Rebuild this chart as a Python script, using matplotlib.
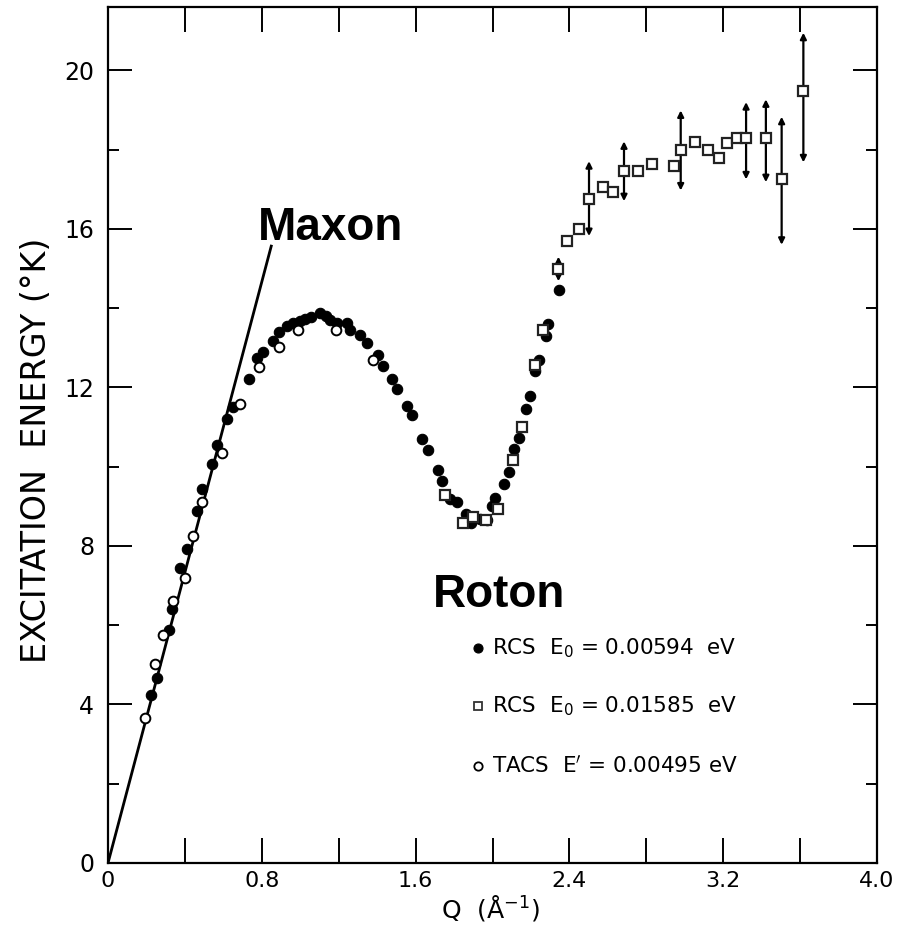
import matplotlib
matplotlib.use("Agg")
import matplotlib.pyplot as plt
from matplotlib.ticker import MultipleLocator, FixedLocator

# ---------------- data ----------------
rcs1_q = [0.222, 0.253, 0.319, 0.331, 0.375, 0.413, 0.461, 0.487, 0.543, 0.569,
          0.617, 0.652, 0.733, 0.773, 0.808, 0.857, 0.891, 0.929, 0.960, 0.999,
          1.025, 1.054, 1.103, 1.134, 1.155, 1.193, 1.245, 1.259, 1.311, 1.346,
          1.407, 1.432, 1.476, 1.502, 1.554, 1.583, 1.632, 1.666, 1.718, 1.739,
          1.779, 1.814, 1.862, 1.887, 1.935, 1.970, 1.996, 2.013, 2.060, 2.086,
          2.113, 2.139, 2.173, 2.197, 2.221, 2.243, 2.278, 2.291, 2.348]
rcs1_e = [4.24, 4.66, 5.88, 6.41, 7.44, 7.92, 8.87, 9.44, 10.07, 10.54,
          11.20, 11.50, 12.22, 12.74, 12.89, 13.16, 13.39, 13.54, 13.63, 13.67,
          13.73, 13.77, 13.88, 13.81, 13.71, 13.63, 13.63, 13.46, 13.33, 13.11,
          12.83, 12.53, 12.21, 11.96, 11.54, 11.31, 10.70, 10.41, 9.92, 9.65,
          9.18, 9.12, 8.81, 8.58, 8.68, 8.66, 9.00, 9.21, 9.56, 9.86,
          10.44, 10.72, 11.45, 11.78, 12.41, 12.70, 13.31, 13.60, 14.47]

rcs2_q = [1.753, 1.848, 1.900, 1.966, 2.030, 2.108, 2.152, 2.219, 2.261, 2.343,
          2.386, 2.450, 2.502, 2.577, 2.629, 2.684, 2.755, 2.831, 2.942, 2.979,
          3.053, 3.119, 3.180, 3.222, 3.274, 3.319, 3.422, 3.504, 3.617]
rcs2_e = [9.29, 8.58, 8.74, 8.66, 8.93, 10.18, 10.99, 12.56, 13.46, 14.99,
          15.69, 16.00, 16.76, 17.06, 16.93, 17.47, 17.47, 17.65, 17.60, 18.00,
          18.19, 17.99, 17.78, 18.17, 18.30, 18.30, 18.30, 17.27, 19.48]

err_q = [2.343, 2.502, 2.684, 2.979, 3.319, 3.422, 3.504, 3.617]
err_lo = [14.68, 15.82, 16.70, 16.97, 17.25, 17.18, 15.60, 17.68]
err_hi = [15.30, 17.71, 18.21, 18.99, 19.20, 19.27, 18.83, 20.95]

tacs_q = [0.192, 0.244, 0.288, 0.340, 0.401, 0.441, 0.491, 0.591, 0.687, 0.787,
          0.891, 0.990, 1.186, 1.380]
tacs_e = [3.65, 5.02, 5.76, 6.62, 7.20, 8.26, 9.12, 10.35, 11.59, 12.52,
          13.02, 13.46, 13.46, 12.68]

phonon_q = [0.0, 0.851]
phonon_e = [0.0, 15.6]

legend_labels = ["RCS  E$_0$ = 0.00594  eV",
                 "RCS  E$_0$ = 0.01585  eV",
                 "TACS  E$'$ = 0.00495 eV"]

xtick_vals = [0, 0.8, 1.6, 2.4, 3.2, 4.0]
xtick_labels = ["0", "0.8", "1.6", "2.4", "3.2", "4.0"]
ytick_vals = [0, 4, 8, 12, 16, 20]
ytick_labels = ["0", "4", "8", "12", "16", "20"]

# ---------------- figure ----------------
fig = plt.figure(figsize=(9.09, 9.26), dpi=100)
ax = fig.add_axes([108/909, 63/926, (877-108)/909, (863-7)/926])
ax.set_xlim(0, 4.0)
ax.set_ylim(0, 21.6)

# phonon line
ax.plot(phonon_q, phonon_e, color="black", lw=2.0, solid_capstyle="butt", zorder=2)

# error bars with arrows
for q, lo, hi in zip(err_q, err_lo, err_hi):
    ax.annotate("", xy=(q, hi), xytext=(q, lo),
                arrowprops=dict(arrowstyle="<|-|>", mutation_scale=9, lw=1.6,
                                color="black", shrinkA=0, shrinkB=0),
                zorder=3)

ax.plot(rcs1_q, rcs1_e, "o", ms=7.5, mfc="black", mec="black", mew=0.8,
        ls="none", zorder=4)
ax.plot(rcs2_q, rcs2_e, "s", ms=6.5, mfc="white", mec="#222222", mew=1.6,
        ls="none", zorder=5)
ax.plot(tacs_q, tacs_e, "o", ms=7, mfc="white", mec="black", mew=1.4,
        ls="none", zorder=5)

# annotations
ax.text(0.78, 15.73, "Maxon", family="Liberation Sans", weight="bold",
        fontsize=33, ha="left", va="baseline")
ax.text(1.69, 6.46, "Roton", family="Liberation Sans", weight="bold",
        fontsize=33, ha="left", va="baseline")

# manual legend
leg_y = [5.43, 3.96, 2.45]
leg_styles = [dict(marker="o", ms=6.5, mfc="black", mec="black", mew=0.8),
              dict(marker="s", ms=6, mfc="white", mec="#333333", mew=1.3),
              dict(marker="o", ms=6, mfc="white", mec="black", mew=1.3)]
for y, lab, st in zip(leg_y, legend_labels, leg_styles):
    ax.plot([1.925], [y], ls="none", **st)
    ax.text(1.995, y, lab, fontsize=15.5, ha="left", va="center")

# ticks
ax.xaxis.set_major_locator(FixedLocator(xtick_vals))
ax.set_xticklabels(xtick_labels)
ax.xaxis.set_minor_locator(MultipleLocator(0.4))
ax.yaxis.set_major_locator(FixedLocator(ytick_vals))
ax.set_yticklabels(ytick_labels)
ax.yaxis.set_minor_locator(MultipleLocator(2))
ax.tick_params(axis="both", which="both", direction="in", top=True, right=True,
               width=1.4, color="black")
ax.tick_params(axis="x", which="both", length=18, labelsize=16, pad=6)
ax.tick_params(axis="y", which="major", length=17, labelsize=17, pad=10)
ax.tick_params(axis="y", which="minor", length=8)
for sp in ax.spines.values():
    sp.set_linewidth(1.6)

ax.text(-0.093, 0.482, "EXCITATION  ENERGY (°K)", transform=ax.transAxes,
        rotation=90, ha="center", va="center", fontsize=24,
        family="DejaVu Sans")
ax.text(0.497, -0.053, "Q  (Å$^{-1}$)", transform=ax.transAxes,
        ha="center", va="center", fontsize=18)

fig.savefig("out.png", dpi=100)
